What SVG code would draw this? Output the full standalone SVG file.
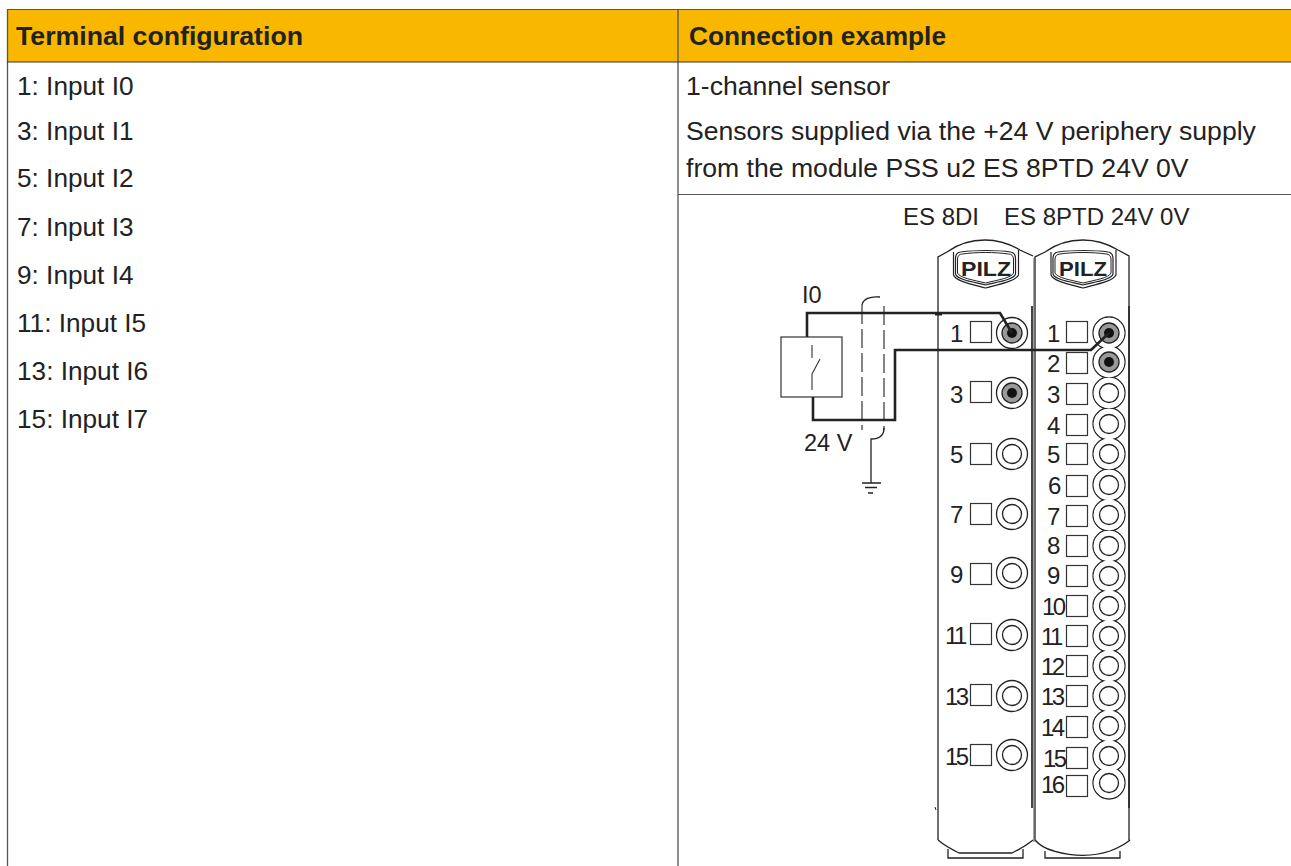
<svg xmlns="http://www.w3.org/2000/svg" width="1291" height="866" viewBox="0 0 1291 866">
<style>
text{font-family:"Liberation Sans",Arial,sans-serif;fill:#222}
.h{font-size:26.500px;font-weight:bold}
.t{font-size:26.200px}
.b{font-size:26.600px}
.d{font-size:24px}
.l{font-size:23.500px}
.n{font-size:24px}
.o{fill:none;stroke:#222;stroke-width:1.300}
.w{fill:none;stroke:#222;stroke-width:2.600}
.s{fill:#fff;stroke:#333;stroke-width:1.200}
.dash{fill:none;stroke:#222;stroke-width:1.100;stroke-dasharray:19 5}
.ro{fill:#fff;stroke:#222;stroke-width:1.300}
.re{fill:#fff;stroke:none}
</style>
<defs>
<g id="box"><rect x="-10.500" y="-10.500" width="21" height="21" class="s"/></g>
<g id="inner"><circle r="9.500" fill="#fff" stroke="#222" stroke-width="1.300"/></g>
<g id="core"><circle r="10" fill="#999" stroke="#222" stroke-width="1.300"/><circle r="5" fill="#111"/></g>
<g id="ring"><circle r="15.500" class="ro"/><use href="#inner"/></g>
<g id="live"><circle r="15.500" class="ro"/><use href="#core"/></g>
<g id="link"><circle r="16" class="ro"/></g>
<g id="clear"><circle r="15.300" class="re"/></g>
<g id="logo">
<path d="M-32 -20V3C-30 9 -15 12 0 16C15 12 30 9 33 3V-22" fill="none" stroke="#222" stroke-width="1.200"/>
<path d="M-30 -14C-30 -17 -28 -20 -25 -20C-10 -22 12 -22 25 -20C28 -20 30 -17 30 -14V2C28 8 12 10 0 13C-12 10 -28 8 -30 2Z" fill="#fff" stroke="#222" stroke-width="1.200"/>
<path d="M-28 -13C-28 -16 -26 -18 -23 -18C-10 -20 10 -20 23 -18C26 -18 28 -16 28 -13V1C26 6 12 8 0 11C-12 8 -26 6 -28 1Z" fill="none" stroke="#222" stroke-width="1"/>
</g>
</defs>
<g id="table">
<rect x="7" y="9" width="1284" height="53" fill="#f9b700"/>
<path d="M7 9.500H1291M678 194.500H1291" fill="none" stroke="#555" stroke-width="1.200"/>
<path d="M7.500 9V866M678 9V866" fill="none" stroke="#555" stroke-width="1.300"/>
<path d="M7 62H1291" fill="none" stroke="#333" stroke-width="1.200"/>
<text class="h" x="16" y="45" textLength="287" lengthAdjust="spacingAndGlyphs">Terminal configuration</text>
<text class="h" x="689" y="45" textLength="257" lengthAdjust="spacingAndGlyphs">Connection example</text>
<text class="t" x="17" y="95">1: Input I0</text>
<text class="t" x="17" y="140">3: Input I1</text>
<text class="t" x="17" y="187">5: Input I2</text>
<text class="t" x="17" y="236">7: Input I3</text>
<text class="t" x="17" y="284">9: Input I4</text>
<text class="t" x="17" y="332">11: Input I5</text>
<text class="t" x="17" y="380">13: Input I6</text>
<text class="t" x="17" y="428">15: Input I7</text>
<text class="b" x="686" y="95">1-channel sensor</text>
<text class="b" x="686" y="140">Sensors supplied via the +24 V periphery supply</text>
<text class="b" x="686" y="177">from the module PSS u2 ES 8PTD 24V 0V</text>
</g>
<g id="titles">
<text class="d" x="903" y="225">ES 8DI</text>
<text class="d" x="1004" y="225">ES 8PTD 24V 0V</text>
</g>
<g id="module-es8di">
<path class="o" d="M938 840V257L947 252C958 244 972 240 985 240C998 240 1010 244 1020 250L1033 256"/>
<path class="o" d="M938 840C945 846 951 849 959 853H1012C1020 849 1027 845 1033 840"/>
<path class="o" d="M948 849V858H1023V849"/>
<path d="M1032 306V808" fill="none" stroke="#444" stroke-width="2"/>
<path d="M935 807L936 810" fill="none" stroke="#222" stroke-width="1"/>
<use href="#logo" x="985.500" y="272"/>
<text x="961" y="276" textLength="50" lengthAdjust="spacingAndGlyphs" style="font-size:21px;font-weight:bold">PILZ</text>
<g id="di-1"><use href="#box" x="981" y="332"/><use href="#live" x="1012" y="333"/><text class="n" x="950" y="342">1</text></g>
<g id="di-3"><use href="#box" x="981" y="392"/><use href="#live" x="1012" y="393"/><text class="n" x="950" y="403">3</text></g>
<g id="di-5"><use href="#box" x="981" y="454"/><use href="#ring" x="1012" y="454"/><text class="n" x="950" y="463">5</text></g>
<g id="di-7"><use href="#box" x="981" y="514"/><use href="#ring" x="1012" y="514"/><text class="n" x="950" y="523">7</text></g>
<g id="di-9"><use href="#box" x="981" y="574"/><use href="#ring" x="1012" y="573"/><text class="n" x="950" y="583">9</text></g>
<g id="di-11"><use href="#box" x="981" y="634"/><use href="#ring" x="1012" y="635"/><text class="n" x="945" y="644" letter-spacing="-2.500">11</text></g>
<g id="di-13"><use href="#box" x="981" y="695"/><use href="#ring" x="1012" y="696"/><text class="n" x="945" y="705" letter-spacing="-2.500">13</text></g>
<g id="di-15"><use href="#box" x="981" y="755"/><use href="#ring" x="1012" y="755"/><text class="n" x="945" y="765" letter-spacing="-2.500">15</text></g>
</g>
<g id="module-es8ptd">
<path class="o" d="M1035 840V257L1045 252C1056 244 1070 240 1083 240C1096 240 1108 244 1118 250L1129 256V840"/>
<path class="o" d="M1035 840C1040 846 1046 849 1054 851C1075 857 1092 857 1110 851C1118 848 1124 845 1130 840"/>
<path class="o" d="M1045 851V858H1120V851"/>
<path d="M1034 258V842" fill="none" stroke="#666" stroke-width="1.200"/>
<path d="M1129 306V808" fill="none" stroke="#333" stroke-width="2"/>
<use href="#logo" x="1083" y="272"/>
<text x="1059" y="276" textLength="48" lengthAdjust="spacingAndGlyphs" style="font-size:21px;font-weight:bold">PILZ</text>
<g id="ptd-chain">
<use href="#link" x="1109" y="333"/><use href="#link" x="1109" y="362"/><use href="#link" x="1109" y="393"/><use href="#link" x="1109" y="424"/><use href="#link" x="1109" y="454"/><use href="#link" x="1109" y="485"/><use href="#link" x="1109" y="515"/><use href="#link" x="1109" y="546"/><use href="#link" x="1109" y="576"/><use href="#link" x="1109" y="606"/><use href="#link" x="1109" y="636"/><use href="#link" x="1109" y="666"/><use href="#link" x="1109" y="696"/><use href="#link" x="1109" y="726"/><use href="#link" x="1109" y="756"/><use href="#link" x="1109" y="783"/>
<use href="#clear" x="1109" y="333"/><use href="#clear" x="1109" y="362"/><use href="#clear" x="1109" y="393"/><use href="#clear" x="1109" y="424"/><use href="#clear" x="1109" y="454"/><use href="#clear" x="1109" y="485"/><use href="#clear" x="1109" y="515"/><use href="#clear" x="1109" y="546"/><use href="#clear" x="1109" y="576"/><use href="#clear" x="1109" y="606"/><use href="#clear" x="1109" y="636"/><use href="#clear" x="1109" y="666"/><use href="#clear" x="1109" y="696"/><use href="#clear" x="1109" y="726"/><use href="#clear" x="1109" y="756"/><use href="#clear" x="1109" y="783"/>
</g>
<g id="ptd-1"><use href="#box" x="1077" y="332"/><use href="#core" x="1109" y="333"/><text class="n" x="1047" y="342">1</text></g>
<g id="ptd-2"><use href="#box" x="1077" y="363"/><use href="#core" x="1109" y="362"/><text class="n" x="1047" y="372">2</text></g>
<g id="ptd-3"><use href="#box" x="1077" y="394"/><use href="#inner" x="1109" y="393"/><text class="n" x="1047" y="403">3</text></g>
<g id="ptd-4"><use href="#box" x="1077" y="425"/><use href="#inner" x="1109" y="424"/><text class="n" x="1047" y="434">4</text></g>
<g id="ptd-5"><use href="#box" x="1077" y="454"/><use href="#inner" x="1109" y="454"/><text class="n" x="1047" y="463">5</text></g>
<g id="ptd-6"><use href="#box" x="1077" y="486"/><use href="#inner" x="1109" y="485"/><text class="n" x="1048" y="494">6</text></g>
<g id="ptd-7"><use href="#box" x="1077" y="516"/><use href="#inner" x="1109" y="515"/><text class="n" x="1047" y="525">7</text></g>
<g id="ptd-8"><use href="#box" x="1077" y="546"/><use href="#inner" x="1109" y="546"/><text class="n" x="1047" y="554">8</text></g>
<g id="ptd-9"><use href="#box" x="1077" y="576"/><use href="#inner" x="1109" y="576"/><text class="n" x="1047" y="584">9</text></g>
<g id="ptd-10"><use href="#box" x="1077" y="606"/><use href="#inner" x="1109" y="606"/><text class="n" x="1042" y="615" letter-spacing="-2.500">10</text></g>
<g id="ptd-11"><use href="#box" x="1077" y="636"/><use href="#inner" x="1109" y="636"/><text class="n" x="1041" y="645" letter-spacing="-2.500">11</text></g>
<g id="ptd-12"><use href="#box" x="1077" y="666"/><use href="#inner" x="1109" y="666"/><text class="n" x="1041" y="675" letter-spacing="-2.500">12</text></g>
<g id="ptd-13"><use href="#box" x="1077" y="696"/><use href="#inner" x="1109" y="696"/><text class="n" x="1041" y="705" letter-spacing="-2.500">13</text></g>
<g id="ptd-14"><use href="#box" x="1077" y="727"/><use href="#inner" x="1109" y="726"/><text class="n" x="1041" y="736" letter-spacing="-2.500">14</text></g>
<g id="ptd-15"><use href="#box" x="1077" y="758"/><use href="#inner" x="1109" y="756"/><text class="n" x="1043" y="767" letter-spacing="-2.500">15</text></g>
<g id="ptd-16"><use href="#box" x="1077" y="786"/><use href="#inner" x="1109" y="783"/><text class="n" x="1041" y="793" letter-spacing="-2.500">16</text></g>
</g>
<g id="sensor">
<rect x="781" y="337" width="61" height="60" fill="#fff" stroke="#333" stroke-width="1.200"/>
<path d="M812 345V358M820 359L812 374M812 374V390" fill="none" stroke="#333" stroke-width="1.100"/>
<text class="l" x="802" y="303">I0</text>
<text class="l" x="804" y="451">24 V</text>
</g>
<g id="connectors">
<path class="w" d="M807 337V313H1000L1012 333"/>
<path class="w" d="M813 397V420H895V350H1091L1109 333"/>
<path d="M935 314H942" fill="none" stroke="#222" stroke-width="3"/>
<path class="dash" d="M862 305V430"/>
<path class="dash" d="M884 306V430"/>
<path class="o" d="M862 305C863 299 870 296 880 297M884 428C884 435 880 439 871 439V483"/>
<path class="o" d="M862 483H881M865 487.500H877M868 493H873"/>
</g>
</svg>
